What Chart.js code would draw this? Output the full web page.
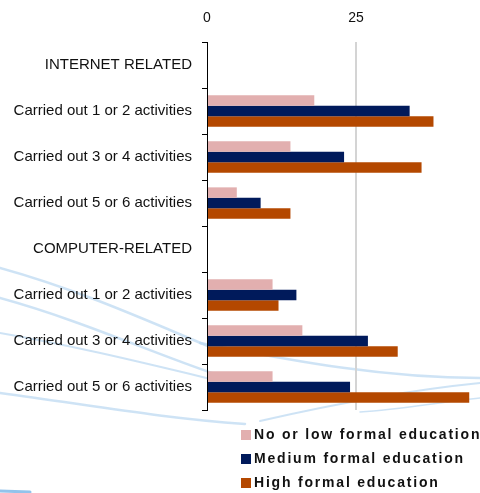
<!DOCTYPE html>
<html>
<head>
<meta charset="utf-8">
<script src="https://cdn.jsdelivr.net/npm/chart.js@4"></script>
<style>
  html, body { margin: 0; padding: 0; background: #fff; }
  #wrap { position: relative; width: 480px; height: 493px; overflow: hidden; }
  #chart { position: absolute; left: 0; top: 0; }
  #legend { position: absolute; left: 241px; top: 422px; font-family: "Liberation Sans", Arial, sans-serif;
            font-weight: bold; font-size: 14px; letter-spacing: 1.8px; color: #111; white-space: nowrap; }
  #legend div { height: 24px; line-height: 24px; }
  #legend span.box { display: inline-block; width: 10px; height: 10px; margin-right: 3px; vertical-align: -1px; }
</style>
</head>
<body>
<div id="wrap">
  <canvas id="chart" width="530" height="493"></canvas>
  <div id="legend"></div>
</div>
<script>
const categories = [
  'INTERNET RELATED',
  'Carried out 1 or 2 activities',
  'Carried out 3 or 4 activities',
  'Carried out 5 or 6 activities',
  'COMPUTER-RELATED',
  'Carried out 1 or 2 activities',
  'Carried out 3 or 4 activities',
  'Carried out 5 or 6 activities'
];
const seriesNames = ['No or low formal education', 'Medium formal education', 'High formal education'];
const lowEdu = [null, 18, 14, 5, null, 11, 16, 11];
const mediumEdu = [null, 34, 23, 9, null, 15, 27, 24];
const highEdu = [null, 38, 36, 14, null, 12, 32, 44];
const xTicks = [0, 25, 50];

const colors = ['#e2afaf', '#001a5b', '#b44800'];

// light blue swooshes in the background
const swooshes = {
  id: 'swooshes',
  beforeDraw(chart) {
    const ctx = chart.ctx;
    ctx.save();
    ctx.strokeStyle = 'rgba(190,218,242,0.75)';
    ctx.lineCap = 'round';
    const curves = [
      [0, 268, 80, 290, 150, 322, 215, 349, 2.5],
      [0, 298, 80, 320, 150, 352, 215, 374, 2.5],
      [0, 333, 70, 345, 140, 362, 215, 380, 2],
      [0, 393, 90, 405, 160, 418, 245, 424, 2.5],
      [200, 343, 290, 360, 380, 378, 480, 378, 2.5],
      [260, 421, 330, 405, 410, 390, 480, 383, 2],
      [360, 412, 400, 410, 440, 402, 480, 398, 1.5]
    ];
    curves.forEach(c => {
      ctx.lineWidth = c[8];
      ctx.beginPath();
      ctx.moveTo(c[0], c[1]);
      ctx.bezierCurveTo(c[2], c[3], c[4], c[5], c[6], c[7]);
      ctx.stroke();
    });
    ctx.strokeStyle = 'rgba(120,180,230,0.8)';
    ctx.lineWidth = 3;
    ctx.beginPath();
    ctx.moveTo(0, 491);
    ctx.lineTo(30, 492);
    ctx.stroke();
    ctx.restore();
  }
};

const config = {
  type: 'bar',
  data: {
    labels: categories,
    datasets: [
      { label: seriesNames[0], data: lowEdu, backgroundColor: colors[0] },
      { label: seriesNames[1], data: mediumEdu, backgroundColor: colors[1] },
      { label: seriesNames[2], data: highEdu, backgroundColor: colors[2] }
    ]
  },
  options: {
    indexAxis: 'y',
    responsive: false,
    animation: false,
    layout: { padding: { top: 0, left: 0, right: 25, bottom: 83 } },
    datasets: { bar: { categoryPercentage: 0.68, barPercentage: 1.0 } },
    scales: {
      x: {
        position: 'top',
        min: 0,
        max: 50,
        afterBuildTicks: (axis) => { axis.ticks = xTicks.map(v => ({ value: v })); },
        afterFit: (axis) => { axis.height = 42; },
        border: { display: false },
        grid: {
          drawTicks: false,
          color: (c) => (c.tick && c.tick.value === 25 ? '#d4d4d4' : 'rgba(0,0,0,0)'),
          lineWidth: 2
        },
        ticks: {
          color: '#111',
          padding: 15,
          font: { family: 'Liberation Sans', size: 14 }
        }
      },
      y: {
        afterFit: (axis) => { axis.width = 207; },
        border: { display: true, color: '#000', width: 1 },
        grid: { offset: true, drawOnChartArea: false, tickLength: 5, color: '#000' },
        ticks: {
          color: '#111',
          padding: 10,
          font: { family: 'Liberation Sans', size: 15 }
        }
      }
    },
    plugins: {
      legend: { display: false },
      tooltip: { enabled: false }
    }
  },
  plugins: [swooshes]
};

const myChart = new Chart(document.getElementById('chart'), config);

const legend = document.getElementById('legend');
seriesNames.forEach((name, i) => {
  const row = document.createElement('div');
  row.innerHTML = '<span class="box" style="background:' + colors[i] + '"></span>' + name;
  legend.appendChild(row);
});
</script>
</body>
</html>
